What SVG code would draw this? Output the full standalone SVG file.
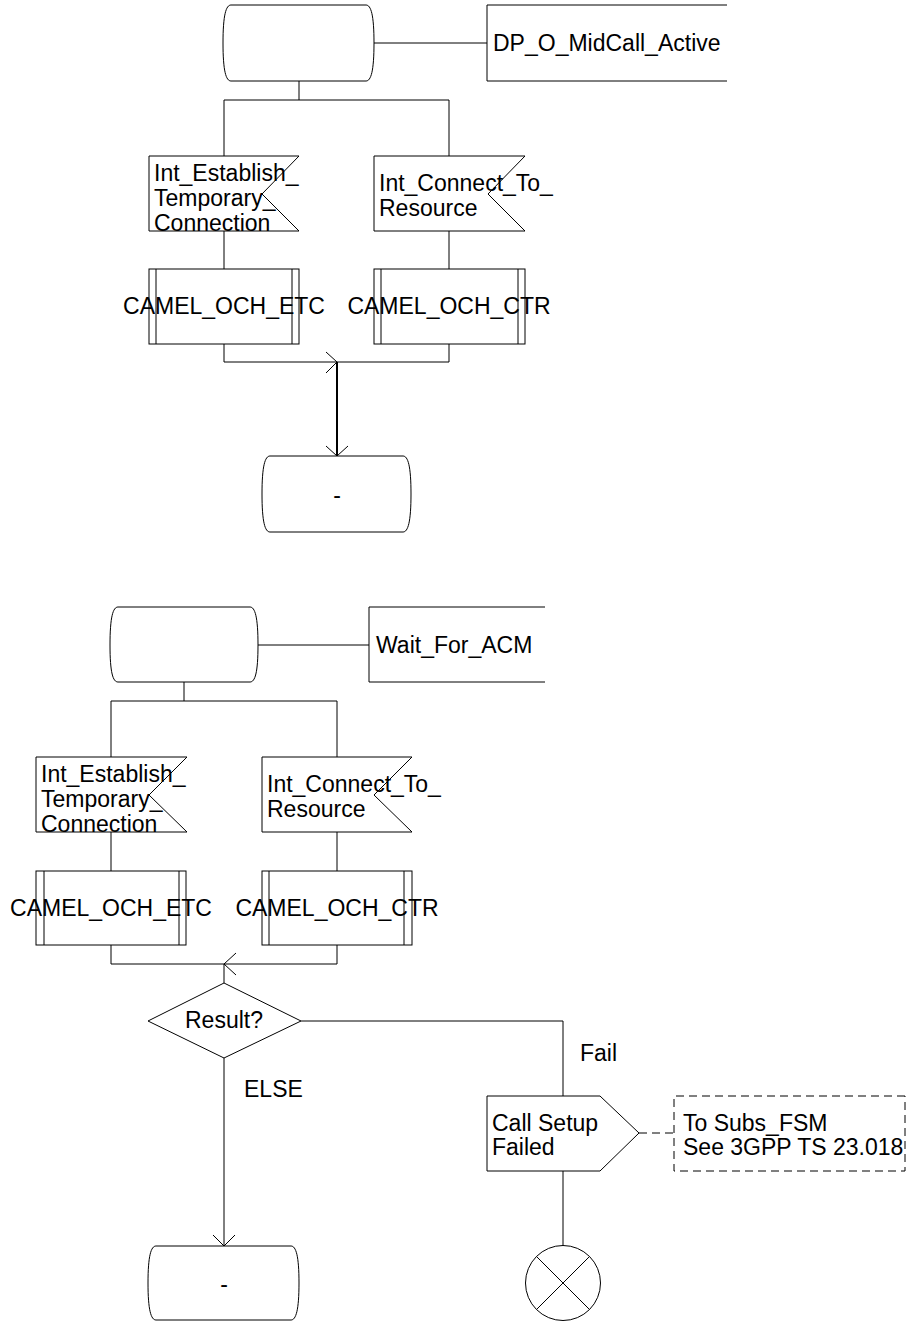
<svg xmlns="http://www.w3.org/2000/svg" width="907" height="1321" viewBox="0 0 907 1321">
<style>
.s{fill:#fff;stroke:#000;stroke-width:1}
.l{fill:none;stroke:#000;stroke-width:1}
.d{fill:none;stroke:#000;stroke-width:1;stroke-dasharray:8,5}
.t{font-family:"Liberation Sans",Arial,sans-serif;font-size:23px;fill:#000}
.m{text-anchor:middle}
</style>
<rect width="907" height="1321" fill="#fff"/>
<g id="connectors">
<path class="l" d="M374,43 H487"/>
<path class="l" d="M299,81 V100 M224,100 H449 M224,100 V156 M449,100 V156"/>
<path class="l" d="M224,231 V269 M449,231 V269"/>
<path class="l" d="M224,344 V362 H449 V344"/>
<polyline class="l" points="326,352 337,362 326,373"/>
<path fill="none" stroke="#000" stroke-width="2" d="M337,362 V456"/>
<polyline class="l" points="326,446 337,456 348,446"/>
<path class="l" d="M258,645 H369"/>
<path class="l" d="M184,682 V701 M111,701 H337 M111,701 V757 M337,701 V757"/>
<path class="l" d="M111,832 V871 M337,832 V871"/>
<path class="l" d="M111,945 V964 H337 V945"/>
<polyline class="l" points="236,953 224,964 236,975"/>
<path class="l" d="M224,964 V983"/>
<path class="l" d="M224,1058 V1246"/>
<polyline class="l" points="213,1235 224,1246 235,1235"/>
<path class="l" d="M301,1021 H563 V1096"/>
<path class="l" d="M563,1171 V1246"/>
<path class="d" d="M639,1133 H674"/>
<text class="t" x="580" y="1061">Fail</text>
<text class="t" x="244" y="1097">ELSE</text>
</g>
<g id="state1">
<path class="s" d="M231,5 H366 C371,5 374,15 374,43 C374,71 371,81 366,81 H231 C226,81 223,71 223,43 C223,15 226,5 231,5 Z"/>
</g>
<g id="label1">
<path class="l" d="M727,5 H487 V81 H727"/>
<text class="t" x="493" y="51">DP_O_MidCall_Active</text>
</g>
<g id="input1a">
<polygon class="s" points="149,156 299,156 262,194 299,231 149,231"/>
<text class="t" x="154" y="181">Int_Establish_</text>
<text class="t" x="154" y="206">Temporary_</text>
<text class="t" x="154" y="231">Connection</text>
</g>
<g id="input1b">
<polygon class="s" points="374,156 525,156 488,194 525,231 374,231"/>
<text class="t" x="379" y="191">Int_Connect_To_</text>
<text class="t" x="379" y="216">Resource</text>
</g>
<g id="proc1a">
<rect class="s" x="149" y="269" width="150" height="75"/>
<path class="l" d="M156,269 V344 M292,269 V344"/>
<text class="t m" x="224" y="314">CAMEL_OCH_ETC</text>
</g>
<g id="proc1b">
<rect class="s" x="374" y="269" width="151" height="75"/>
<path class="l" d="M381,269 V344 M518,269 V344"/>
<text class="t m" x="449" y="314">CAMEL_OCH_CTR</text>
</g>
<g id="state1end">
<path class="s" d="M270,456 H403 C408,456 411,466 411,494 C411,522 408,532 403,532 H270 C265,532 262,522 262,494 C262,466 265,456 270,456 Z"/>
<text class="t m" x="337" y="503">-</text>
</g>
<g id="state2">
<path class="s" d="M118,607 H250 C255,607 258,617 258,645 C258,673 255,682 250,682 H118 C113,682 110,673 110,645 C110,617 113,607 118,607 Z"/>
</g>
<g id="label2">
<path class="l" d="M545,607 H369 V682 H545"/>
<text class="t" x="376" y="653">Wait_For_ACM</text>
</g>
<g id="input2a">
<polygon class="s" points="36,757 187,757 149,795 187,832 36,832"/>
<text class="t" x="41" y="782">Int_Establish_</text>
<text class="t" x="41" y="807">Temporary_</text>
<text class="t" x="41" y="832">Connection</text>
</g>
<g id="input2b">
<polygon class="s" points="262,757 412,757 374,795 412,832 262,832"/>
<text class="t" x="267" y="792">Int_Connect_To_</text>
<text class="t" x="267" y="817">Resource</text>
</g>
<g id="proc2a">
<rect class="s" x="36" y="871" width="150" height="74"/>
<path class="l" d="M44,871 V945 M179,871 V945"/>
<text class="t m" x="111" y="916">CAMEL_OCH_ETC</text>
</g>
<g id="proc2b">
<rect class="s" x="262" y="871" width="150" height="74"/>
<path class="l" d="M269,871 V945 M404,871 V945"/>
<text class="t m" x="337" y="916">CAMEL_OCH_CTR</text>
</g>
<g id="decision">
<polygon class="s" points="224,983 301,1021 224,1058 148,1021"/>
<text class="t m" x="224" y="1028">Result?</text>
</g>
<g id="output">
<polygon class="s" points="487,1096 600,1096 639,1133 600,1171 487,1171"/>
<text class="t" x="492" y="1131">Call Setup</text>
<text class="t" x="492" y="1155">Failed</text>
</g>
<g id="comment">
<path class="d" d="M905,1096 H674 V1171 H905 V1096"/>
<text class="t" x="683" y="1131">To Subs_FSM</text>
<text class="t" x="683" y="1155">See 3GPP TS 23.018</text>
</g>
<g id="state2end">
<path class="s" d="M156,1246 H291 C296,1246 299,1256 299,1283 C299,1310 296,1320 291,1320 H156 C151,1320 148,1310 148,1283 C148,1256 151,1246 156,1246 Z"/>
<text class="t m" x="224" y="1292">-</text>
</g>
<g id="stop">
<circle class="s" cx="563" cy="1283" r="37.5"/>
<path class="l" d="M536.5,1256.5 L589.5,1309.5 M589.5,1256.5 L536.5,1309.5"/>
</g>
</svg>
